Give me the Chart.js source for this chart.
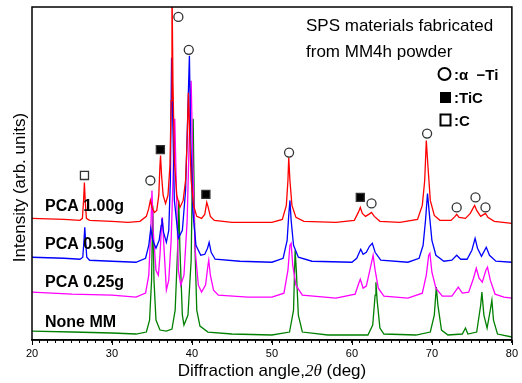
<!DOCTYPE html>
<html>
<head>
<meta charset="utf-8">
<script src="https://cdn.jsdelivr.net/npm/chart.js@4.4.1/dist/chart.umd.min.js"></script>
<style>
  html, body { margin: 0; padding: 0; background: #fff; }
  #chart { display: block; }
</style>
</head>
<body>
<canvas id="chart" width="522" height="383"></canvas>
<script>
"use strict";

// 2θ (deg), intensity (arb. units, stacked offsets as in the figure)
const pca100 = [
  [20, 122], [22, 121.5], [24, 121], [26, 120], [26.3, 122], [26.45, 140], [26.55, 158], [26.65, 140],
  [26.8, 122], [27.2, 120], [30, 119], [32, 118], [33.5, 119], [34.3, 124], [34.6, 132], [34.8, 140],
  [35.0, 133], [35.3, 128], [35.6, 130], [35.85, 145], [36.0, 175], [36.07, 185], [36.2, 165], [36.4, 145],
  [36.7, 137], [37.0, 145], [37.25, 175], [37.4, 240], [37.5, 360], [37.62, 260], [37.8, 180], [38.1, 145],
  [38.5, 133], [38.9, 140], [39.2, 160], [39.4, 200], [39.55, 248], [39.7, 210], [39.9, 160], [40.2, 135],
  [40.6, 124], [41.2, 122], [41.6, 126], [41.85, 138], [42.0, 134], [42.3, 124], [42.8, 120], [45, 118],
  [50, 118], [51.3, 121], [51.8, 135], [52.0, 160], [52.1, 183], [52.25, 160], [52.5, 135], [53, 123],
  [54, 119], [58, 118], [60.3, 120], [60.8, 128], [61.05, 133], [61.3, 127], [61.7, 124], [62.1, 126],
  [62.45, 128], [62.8, 124], [63.5, 119], [66, 118], [68.2, 121], [68.8, 135], [69.1, 160], [69.3, 200],
  [69.5, 175], [69.8, 140], [70.3, 125], [71, 120], [72.4, 120], [72.9, 124], [73.1, 126], [73.4, 123],
  [74.2, 122], [74.8, 127], [75.2, 133], [75.35, 135], [75.6, 130], [76.1, 124], [76.5, 126], [76.7, 127],
  [77, 123], [77.8, 119], [80, 117],
];
const pca050 = [
  [20, 83], [24, 82], [26, 81], [26.35, 83], [26.5, 100], [26.6, 113], [26.7, 100], [26.85, 83],
  [27.2, 80], [30, 79], [33, 78], [34.2, 82], [34.6, 95], [34.85, 112], [35.1, 100], [35.5, 92],
  [35.9, 100], [36.15, 115], [36.25, 122], [36.45, 108], [36.8, 98], [37.1, 110], [37.3, 160], [37.45, 283],
  [37.6, 220], [37.8, 140], [38.3, 102], [38.8, 110], [39.2, 150], [39.45, 220], [39.68, 285], [39.85, 200],
  [40.1, 130], [40.5, 95], [41.1, 85], [41.6, 86], [41.95, 92], [42.15, 98], [42.4, 88], [42.9, 81],
  [46, 79], [50, 78], [51.4, 82], [51.9, 100], [52.1, 125], [52.25, 140], [52.4, 120], [52.7, 95],
  [53.3, 83], [55, 79], [60, 78], [60.6, 82], [61.1, 91], [61.4, 86], [61.8, 88], [62.2, 94],
  [62.55, 97], [62.9, 88], [63.6, 80], [67, 78], [68.4, 82], [68.9, 95], [69.2, 120], [69.45, 147],
  [69.7, 125], [70.0, 100], [70.5, 85], [71.5, 79], [72.5, 80], [73.1, 85], [73.6, 81], [74.4, 81],
  [75.0, 90], [75.4, 102], [75.7, 92], [76.2, 84], [76.8, 93], [77.2, 85], [78, 79], [80, 78],
];
const pca025 = [
  [20, 48], [25, 46], [30, 45], [33, 43], [34.2, 47], [34.6, 65], [34.85, 110], [35.0, 150],
  [35.15, 110], [35.5, 70], [35.8, 65], [36.0, 85], [36.2, 115], [36.3, 123], [36.45, 100], [36.8, 50],
  [37.1, 60], [37.4, 100], [37.7, 180], [37.85, 222], [38.0, 170], [38.3, 70], [38.6, 55], [39.0, 65],
  [39.4, 120], [39.75, 230], [39.9, 260], [40.1, 180], [40.4, 90], [40.8, 55], [41.2, 48], [41.7, 55],
  [42.0, 75], [42.1, 80], [42.3, 65], [42.7, 50], [43.3, 45], [47, 43], [50, 43], [51.5, 47],
  [52.0, 70], [52.25, 95], [52.4, 97], [52.6, 75], [53, 55], [53.8, 45], [58, 42], [60.4, 46],
  [60.9, 58], [61.05, 61], [61.4, 52], [61.8, 54], [62.3, 72], [62.65, 85], [62.9, 70], [63.3, 52],
  [64, 44], [67, 42], [68.8, 47], [69.3, 65], [69.6, 85], [69.75, 87], [70.0, 68], [70.5, 52],
  [71.3, 44], [72.5, 44], [73.3, 53], [73.8, 47], [74.6, 48], [75.2, 62], [75.55, 72], [75.9, 62],
  [76.3, 58], [76.75, 70], [76.95, 73], [77.3, 60], [77.9, 46], [79, 43], [80, 42],
];
const noneMM = [
  [20, 9], [25, 8], [30, 7], [33, 6], [34.3, 8], [34.7, 20], [34.95, 60], [35.1, 135],
  [35.25, 60], [35.5, 20], [36, 10], [36.8, 9], [37.5, 11], [37.9, 30], [38.2, 90], [38.35, 140],
  [38.5, 90], [38.8, 25], [39.0, 15], [39.5, 25], [39.9, 80], [40.15, 222], [40.35, 100], [40.6, 30],
  [41, 14], [42, 8], [45, 6], [50, 5], [52.2, 8], [52.7, 30], [52.9, 90], [53.05, 70],
  [53.3, 25], [53.8, 8], [57, 5], [62, 5], [62.6, 15], [62.9, 45], [63.0, 58], [63.15, 40],
  [63.5, 12], [64, 6], [68, 5], [69.8, 8], [70.3, 25], [70.55, 53], [70.75, 35], [71.2, 10],
  [72, 5], [73.8, 6], [74.2, 12], [74.5, 6], [75.6, 8], [76.1, 35], [76.25, 48], [76.5, 25],
  [76.9, 12], [77.3, 30], [77.5, 40], [77.7, 20], [78.2, 6], [80, 3],
];

// phase markers above the PCA 1.00g peaks
const alphaTiPeaks = [[34.8, 160], [38.3, 324], [39.6, 291], [52.14, 188], [62.45, 137], [69.4, 207], [73.1, 133], [75.45, 143], [76.7, 133]];
const ticPeaks = [[36.05, 191], [41.74, 146], [61.05, 143]];
const carbonPeaks = [[26.56, 165]];

const seriesNames = ["PCA 1.00g", "PCA 0.50g", "PCA 0.25g", "None MM"];
const seriesColors = ["#ff0000", "#0000ff", "#ff00ff", "#008000"];
const xMin = 20;
const xMax = 80;
const majorStep = 10;

const FONT = "'Liberation Sans', Arial, sans-serif";
const toXY = (pts) => pts.map(([x, y]) => ({ x, y }));

function markerSet(pts, style, fill, radius) {
  return {
    data: toXY(pts),
    showLine: false,
    pointStyle: style,
    pointRadius: radius,
    pointBorderColor: "#333",
    pointBackgroundColor: fill,
    pointBorderWidth: 1.3,
  };
}

const decorations = {
  id: "decorations",
  afterDatasetsDraw(chart) {
    const { ctx, chartArea: a } = chart;
    ctx.save();
    ctx.fillStyle = "#000";
    ctx.textBaseline = "alphabetic";
    ctx.font = `bold 16px ${FONT}`;
    const labelY = [211, 249, 287, 327];
    seriesNames.forEach((name, i) => ctx.fillText(name, a.left + 13, labelY[i]));
    ctx.restore();
  },
  afterDraw(chart) {
    const { ctx, chartArea: a, scales } = chart;
    ctx.save();
    // frame
    ctx.strokeStyle = "#000";
    ctx.lineWidth = 1.5;
    ctx.strokeRect(a.left, a.top, a.right - a.left, a.bottom - a.top);
    // longer major ticks
    ctx.lineWidth = 1;
    for (let v = xMin; v <= xMax; v += majorStep) {
      const x = Math.round(scales.x.getPixelForValue(v)) + 0.5;
      ctx.beginPath();
      ctx.moveTo(x, a.bottom);
      ctx.lineTo(x, a.bottom + 5);
      ctx.stroke();
    }
    ctx.fillStyle = "#000";
    ctx.textBaseline = "alphabetic";
    // title text
    ctx.font = `17px ${FONT}`;
    ctx.fillText("SPS materials fabricated", 306, 31);
    ctx.fillText("from MM4h powder", 306, 57);
    // phase legend
    ctx.lineWidth = 2;
    ctx.strokeStyle = "#000";
    ctx.beginPath();
    ctx.arc(444.5, 74, 6, 0, Math.PI * 2);
    ctx.stroke();
    ctx.fillRect(440, 92, 11, 11);
    ctx.strokeRect(440.5, 114.5, 10, 11);
    ctx.font = `bold 15px ${FONT}`;
    ctx.fillText(":α  −Ti", 454, 80);
    ctx.fillText(":TiC", 454, 103);
    ctx.fillText(":C", 454, 126);
    // x title with italic 2θ
    ctx.font = `17px ${FONT}`;
    const p1 = "Diffraction angle,";
    const p3 = " (deg)";
    const w1 = ctx.measureText(p1).width;
    const w3 = ctx.measureText(p3).width;
    ctx.font = `italic 17px 'Liberation Serif', serif`;
    const w2 = ctx.measureText("2θ").width;
    const x = (a.left + a.right) / 2 - (w1 + w2 + w3) / 2;
    ctx.font = `17px ${FONT}`;
    ctx.fillText(p1, x, 376);
    ctx.font = `italic 17px 'Liberation Serif', serif`;
    ctx.fillText("2θ", x + w1, 376);
    ctx.font = `17px ${FONT}`;
    ctx.fillText(p3, x + w1 + w2, 376);
    // y title
    ctx.translate(25, (a.top + a.bottom) / 2 + 14);
    ctx.rotate(-Math.PI / 2);
    ctx.textAlign = "center";
    ctx.fillText("Intensity (arb. units)", 0, 0);
    ctx.restore();
  },
};

const series = [pca100, pca050, pca025, noneMM];

new Chart(document.getElementById("chart"), {
  type: "line",
  data: {
    datasets: [
      markerSet(alphaTiPeaks, "circle", "#fff", 4.5),
      markerSet(ticPeaks, "rect", "#000", 5.7),
      markerSet(carbonPeaks, "rect", "#fff", 5.7),
      ...series.map((pts, i) => ({
        label: seriesNames[i],
        data: toXY(pts),
        borderColor: seriesColors[i],
        borderWidth: 1.3,
        pointRadius: 0,
        tension: 0,
        fill: false,
      })),
    ],
  },
  options: {
    responsive: false,
    animation: false,
    layout: { padding: { left: 32, right: 5, top: 6, bottom: 0 } },
    plugins: { legend: { display: false }, tooltip: { enabled: false } },
    scales: {
      x: {
        type: "linear",
        min: xMin,
        max: xMax,
        afterFit: (s) => { s.height = 43; },
        ticks: {
          stepSize: 1,
          autoSkip: false,
          maxRotation: 0,
          padding: 4,
          color: "#000",
          font: { size: 11, family: FONT },
          callback: (v) => (v % majorStep === 0 ? String(v) : ""),
        },
        grid: { drawOnChartArea: false, tickLength: 3, color: "#000" },
        border: { color: "#000", width: 1.5 },
      },
      y: { display: false, min: 0, max: 334 },
    },
  },
  plugins: [decorations],
});
</script>
</body>
</html>
